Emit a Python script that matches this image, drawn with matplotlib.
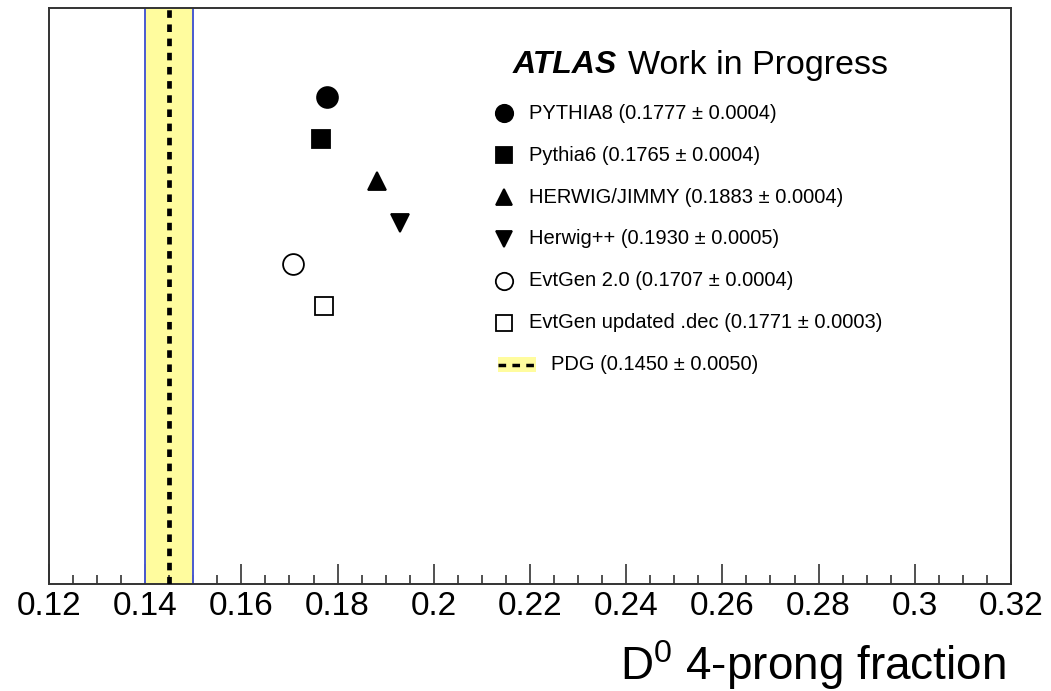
import matplotlib.pyplot as plt
from matplotlib.ticker import FuncFormatter, MultipleLocator

plt.rcParams['font.family'] = ['Liberation Sans', 'DejaVu Sans']
plt.rcParams['mathtext.fontset'] = 'custom'
plt.rcParams['mathtext.rm'] = 'Liberation Sans'

# D0 4-prong fraction per generator
generators = ['PYTHIA8', 'Pythia6', 'HERWIG/JIMMY', 'Herwig++',
              'EvtGen 2.0', 'EvtGen updated .dec']
fractions = [0.1777, 0.1765, 0.1883, 0.1930, 0.1707, 0.1771]
errors = [0.0004, 0.0004, 0.0004, 0.0005, 0.0004, 0.0003]
markers = ['o', 's', '^', 'v', 'o', 's']
filled = [True, True, True, True, False, False]

pdg_value = 0.1450
pdg_error = 0.0050

fig = plt.figure(figsize=(10.51, 6.91), dpi=100)
ax = fig.add_axes([0.0466, 0.1548, 0.9153, 0.8336])
ax.set_xlim(0.12, 0.32)
ax.set_ylim(0, 1)

# PDG band
ax.axvspan(pdg_value - pdg_error, pdg_value + pdg_error,
           facecolor='#fffc9e', edgecolor='none', zorder=1)
for edge in (pdg_value - pdg_error, pdg_value + pdg_error):
    ax.axvline(edge, color='#4a5ad0', lw=1.4, zorder=2)
ax.axvline(pdg_value, color='black', lw=3.4, dashes=(1.6, 1.4), zorder=3)

# generator points, one row each
msizes = {'o': 15, 's': 13.5, '^': 13, 'v': 13}
for i, (name, val, err, m, f) in enumerate(
        zip(generators, fractions, errors, markers, filled)):
    y = 0.845 - 0.0725 * i
    ax.errorbar(val, y, xerr=err, fmt=m, ms=msizes[m],
                mfc='black' if f else 'white', mec='black', mew=1.3,
                ecolor='black', elinewidth=1, capsize=0, zorder=5)

# legend drawn by hand
tr = ax.transAxes
ax.text(0.482, 0.901, 'ATLAS', transform=tr, fontsize=23,
        fontweight='bold', fontstyle='italic', va='center', ha='left')
ax.text(0.6015, 0.901, 'Work in Progress', transform=tr, fontsize=24.5,
        va='center', ha='left')

lsizes = {'o': 12.5, 's': 12, '^': 12, 'v': 12}
for i, (name, val, err, m, f) in enumerate(
        zip(generators, fractions, errors, markers, filled)):
    y = 0.8177 - 0.0729 * i
    ax.plot(0.473, y, marker=m, ms=lsizes[m], transform=tr, clip_on=False,
            mfc='black' if f else 'white', mec='black', mew=1.3, ls='none')
    ax.text(0.499, y, f'{name} ({val:.4f} ± {err:.4f})', transform=tr,
            fontsize=14.5, va='center', ha='left')

y_pdg = 0.8177 - 0.0729 * 6
ax.add_patch(plt.Rectangle((0.4667, y_pdg - 0.013), 0.0395, 0.026,
                           transform=tr, facecolor='#fffc9e',
                           edgecolor='none', clip_on=False))
ax.plot([0.4667, 0.5062], [y_pdg, y_pdg], transform=tr, color='black',
        lw=2.5, dashes=(2.2, 1.8), clip_on=False)
ax.text(0.522, y_pdg, f'PDG ({pdg_value:.4f} ± {pdg_error:.4f})',
        transform=tr, fontsize=14.5, va='center', ha='left')

# axes styling
for s in ax.spines.values():
    s.set_color('#333333')
    s.set_linewidth(1.4)
ax.xaxis.set_major_locator(MultipleLocator(0.02))
ax.xaxis.set_minor_locator(MultipleLocator(0.005))
ax.xaxis.set_major_formatter(FuncFormatter(lambda v, p: f'{v:g}'))
ax.tick_params(axis='x', which='major', direction='in', length=14.5,
               width=1.2, color='#333333', labelsize=24, pad=5)
ax.tick_params(axis='x', which='minor', direction='in', length=6.5,
               width=1.2, color='#333333')
ax.tick_params(axis='y', left=False, labelleft=False)
ax.xaxis.set_label_coords(0.995, -0.093)
ax.set_xlabel(r'D$^0$ 4-prong fraction', fontsize=33, ha='right', va='top')

fig.savefig('out.png', dpi=100)
